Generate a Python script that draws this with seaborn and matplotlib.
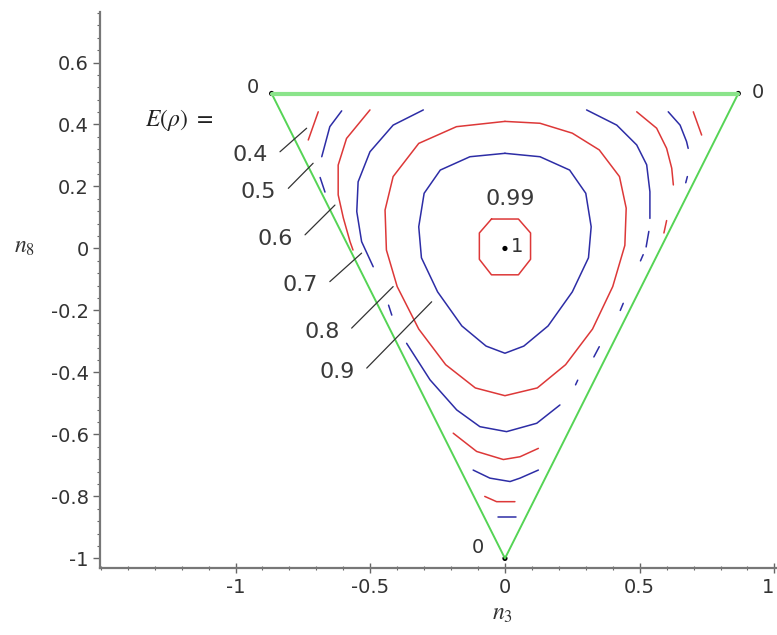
import pandas as pd
import matplotlib
matplotlib.use("Agg")
import matplotlib.pyplot as plt
import seaborn as sns
from matplotlib.ticker import MultipleLocator, FixedLocator, FuncFormatter

# triangle of the state space (n3, n8) and its corner / centre points
TRI_N3 = [-0.866, 0.866, 0.0, -0.866]
TRI_N8 = [0.5, 0.5, -1.0, 0.5]
POINT_N3 = [-0.866, 0.866, 0.0, 0.0]
POINT_N8 = [0.5, 0.5, -1.0, 0.0]
POINT_VALUES = ["0", "0", "0", "1"]

X_TICKS = [-1, -0.5, 0, 0.5, 1]

# contour pieces of E(rho), one list per level
E03 = [([-0.026, 0.041], [-0.865, -0.865])]
E04 = [
    ([-0.693, -0.730], [0.441, 0.350]),
    ([0.699, 0.730], [0.441, 0.366]),
    ([-0.075, -0.031, 0.037], [-0.800, -0.817, -0.817]),
]
E05 = [
    ([-0.606, -0.650, -0.680], [0.444, 0.393, 0.296]),
    ([-0.686, -0.668], [0.229, 0.182]),
    ([0.606, 0.650, 0.674, 0.680], [0.441, 0.398, 0.345, 0.323]),
    ([0.677, 0.671], [0.232, 0.212]),
    ([-0.118, -0.056, 0.019, 0.056, 0.124], [-0.715, -0.741, -0.752, -0.741, -0.715]),
]
E06 = [
    ([-0.501, -0.588, -0.619, -0.619, -0.600, -0.575, -0.564],
     [0.447, 0.355, 0.269, 0.173, 0.099, 0.022, -0.005]),
    ([0.489, 0.563, 0.600, 0.619, 0.625], [0.441, 0.388, 0.323, 0.259, 0.205]),
    ([0.600, 0.590], [0.090, 0.050]),
    ([-0.192, -0.105, -0.006, 0.056, 0.124], [-0.596, -0.655, -0.681, -0.672, -0.645]),
]
E07 = [
    ([-0.303, -0.415, -0.501, -0.545, -0.550, -0.532, -0.489],
     [0.447, 0.398, 0.312, 0.215, 0.119, 0.022, -0.059]),
    ([0.303, 0.415, 0.489, 0.526, 0.538, 0.538], [0.447, 0.398, 0.334, 0.270, 0.183, 0.097]),
    ([0.534, 0.524], [0.055, 0.005]),
    ([0.513, 0.503], [-0.020, -0.040]),
    ([-0.432, -0.420], [-0.183, -0.215]),
    ([0.439, 0.428], [-0.177, -0.200]),
    ([0.350, 0.330], [-0.317, -0.350]),
    ([0.270, 0.262], [-0.425, -0.440]),
    ([-0.365, -0.278, -0.179, -0.093, 0.006, 0.118, 0.204],
     [-0.306, -0.424, -0.521, -0.575, -0.591, -0.564, -0.505]),
]
E08 = [
    ([0.0, -0.18, -0.32, -0.415, -0.445, -0.44, -0.40, -0.32, -0.22, -0.11, 0.0,
      0.12, 0.225, 0.325, 0.40, 0.445, 0.45, 0.425, 0.35, 0.25, 0.13, 0.0],
     [0.41, 0.393, 0.339, 0.232, 0.124, -0.005, -0.123, -0.26, -0.375, -0.45, -0.475,
      -0.45, -0.375, -0.26, -0.123, 0.01, 0.13, 0.232, 0.318, 0.372, 0.404, 0.41]),
]
E09 = [
    ([0.0, -0.13, -0.24, -0.30, -0.32, -0.31, -0.25, -0.16, -0.07, 0.0,
      0.07, 0.16, 0.25, 0.31, 0.32, 0.30, 0.24, 0.13, 0.0],
     [0.307, 0.296, 0.253, 0.178, 0.07, -0.03, -0.14, -0.25, -0.315, -0.338,
      -0.315, -0.25, -0.14, -0.03, 0.07, 0.178, 0.253, 0.296, 0.307]),
]
E099 = [
    ([-0.05, 0.05, 0.095, 0.095, 0.05, -0.05, -0.095, -0.095, -0.05],
     [0.095, 0.095, 0.05, -0.035, -0.085, -0.085, -0.035, 0.05, 0.095]),
]

LEVELS = [0.3, 0.4, 0.5, 0.6, 0.7, 0.8, 0.9, 0.99]
PIECES = [E03, E04, E05, E06, E07, E08, E09, E099]

# labels with leader lines on the left
LABELS = ["0.4", "0.5", "0.6", "0.7", "0.8", "0.9"]
LEAD_N3_0 = [-0.835, -0.804, -0.742, -0.650, -0.569, -0.513]
LEAD_N8_0 = [0.312, 0.194, 0.044, -0.107, -0.257, -0.386]
LEAD_N3_1 = [-0.736, -0.712, -0.631, -0.532, -0.415, -0.272]
LEAD_N8_1 = [0.388, 0.275, 0.140, -0.015, -0.123, -0.172]

RED = "#dd3838"
BLUE = "#2d2da6"
GREEN = "#55d455"

rows = []
seg_id = 0
for level, pieces in zip(LEVELS, PIECES):
    for n3, n8 in pieces:
        for k, (a, b) in enumerate(zip(n3, n8)):
            rows.append({"level": level, "segment": seg_id, "k": k, "n3": a, "n8": b})
        seg_id += 1
contours = pd.DataFrame(rows)
palette = {lv: (BLUE if i % 2 == 0 else RED) for i, lv in enumerate(LEVELS)}

sns.set_style("white")
plt.rcParams["font.family"] = ["DejaVu Sans"]
plt.rcParams["mathtext.fontset"] = "stix"

fig = plt.figure(figsize=(7.77, 6.35), dpi=100)
ax = fig.add_axes([0.1287, 0.106, 0.8713, 0.8756])

# triangle
sns.lineplot(x=TRI_N3, y=TRI_N8, sort=False, estimator=None, color=GREEN, lw=1.4, ax=ax)
sns.lineplot(x=TRI_N3[:2], y=TRI_N8[:2], sort=False, estimator=None,
             color="#8be48b", lw=3.0, ax=ax)

# contours
sns.lineplot(data=contours, x="n3", y="n8", hue="level", units="segment",
             estimator=None, sort=False, palette=palette, legend=False, lw=1.1, ax=ax)

# leader lines and labels
for lab, x0, y0, x1, y1 in zip(LABELS, LEAD_N3_0, LEAD_N8_0, LEAD_N3_1, LEAD_N8_1):
    ax.plot([x0, x1], [y0, y1], color="#333333", lw=0.9)
    ax.text(x0 - 0.045, y0 - 0.012, lab, ha="right", va="center", fontsize=16, color="#3a3a3a")

ax.text(0.021, 0.159, "0.99", ha="center", va="center", fontsize=16, color="#3a3a3a")
ax.text(-1.21, 0.415, r"$E(\rho)\ =$", ha="center", va="center", fontsize=17, color="#222222")

# corner and centre points
sns.scatterplot(x=POINT_N3, y=POINT_N8, color="black", s=14, edgecolor="none", ax=ax)
ax.text(-0.937, 0.519, POINT_VALUES[0], ha="center", va="center", fontsize=14, color="#333333")
ax.text(0.939, 0.503, POINT_VALUES[1], ha="center", va="center", fontsize=14, color="#333333")
ax.text(-0.10, -0.965, POINT_VALUES[2], ha="center", va="center", fontsize=14, color="#333333")
ax.text(0.046, 0.006, POINT_VALUES[3], ha="center", va="center", fontsize=14, color="#333333")

ax.set_xlim(-1.503, 1.0097)
ax.set_ylim(-1.03, 0.764)

for s in ["top", "right"]:
    ax.spines[s].set_visible(False)
for s in ["left", "bottom"]:
    ax.spines[s].set_color("#777777")
    ax.spines[s].set_linewidth(1.6)

ax.xaxis.set_major_locator(FixedLocator(X_TICKS))
ax.xaxis.set_minor_locator(MultipleLocator(0.1))
ax.yaxis.set_major_locator(MultipleLocator(0.2))
ax.yaxis.set_minor_locator(MultipleLocator(0.04))
fmt = FuncFormatter(lambda v, p: f"{round(v, 6):g}")
ax.xaxis.set_major_formatter(fmt)
ax.yaxis.set_major_formatter(fmt)
ax.tick_params(axis="x", which="major", bottom=True, direction="inout", length=7, width=1,
               colors="#666666", labelcolor="#333333", labelsize=14, pad=4)
ax.tick_params(axis="x", which="minor", bottom=True, direction="inout", length=3.5, width=0.8,
               colors="#666666")
ax.tick_params(axis="y", which="major", left=True, direction="out", length=5, width=1,
               colors="#666666", labelcolor="#333333", labelsize=14, pad=3)
ax.tick_params(axis="y", which="minor", left=True, direction="out", length=2.5, width=0.8,
               colors="#666666")
# the last x label sits on the right edge; keep it inside the figure
ax.get_xticklabels()[-1].set_horizontalalignment("right")

ax.set_xlabel(r"$n_3$", fontsize=17, color="#333333")
ax.set_ylabel(r"$n_8$", fontsize=17, color="#333333", rotation=0, ha="center", va="center")
ax.xaxis.set_label_coords(0.594, -0.06)
ax.yaxis.set_label_coords(-0.111, 0.579)

fig.savefig("out.png", dpi=100)
plt.close(fig)
